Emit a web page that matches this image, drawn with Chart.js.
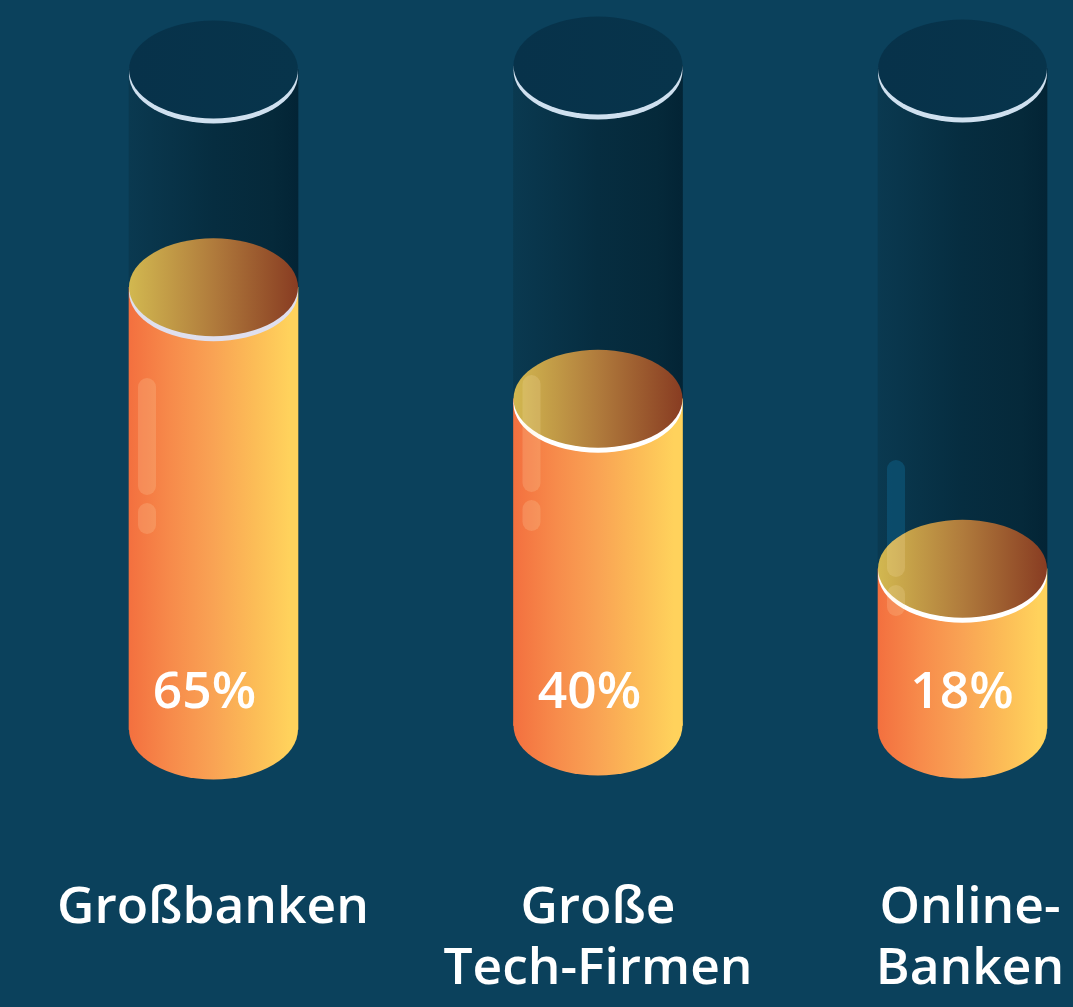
<!DOCTYPE html>
<html lang="de">
<head>
<meta charset="utf-8">
<title>Großbanken, Tech-Firmen, Online-Banken</title>
<script src="https://cdn.jsdelivr.net/npm/chart.js@4"></script>
<style>
html,body{margin:0;padding:0;background:#0b415c;}
canvas{display:block;}
</style>
</head>
<body>
<canvas id="chart" width="1073" height="1007"></canvas>
<script>
// Data
const categories = [['Großbanken'], ['Große', 'Tech-Firmen'], ['Online-', 'Banken']];
const percentValues = [65, 40, 18];
const fillLevels = [67.0, 49.5, 24.2];   // drawn liquid height
const tubeLevels = [100, 100, 100];

// Styles and per-column nudges
const COL_DX = [0, 10, 0];
const COL_DY = [0, -4, -1];
const LABEL_X = [213, 598, 970];
const LABEL_Y = 923;
const LABEL_LINE = 61;
const PCT_X = [204.5, 589.5, 962];
const PCT_Y = 708;
const BAR_W = 169;
const RY = 49;
const RY_BOTTOM = 50;
const RIM = 5;
const TOP_RIM = '#cfe0ef';
const FILL_RIM = ['#dfdfee', '#ffffff', '#ffffff'];
const HILITE_TOP = [378, 375, 460];
const HILITE_LONG = 117, HILITE_GAP = 8, HILITE_SHORT = 31;
const HILITE_X = 9, HILITE_W = 18;

function grad(ctx, cx, stops) {
  const g = ctx.createLinearGradient(cx - BAR_W / 2, 0, cx + BAR_W / 2, 0);
  stops.forEach(s => g.addColorStop(s[0], s[1]));
  return g;
}
const TUBE = [[0, '#0a3950'], [0.5, '#062d40'], [0.85, '#05293a'], [1, '#032435']];
const TUBE_TOP = [[0, '#07324a'], [1, '#07344b']];
const LIQ = [[0, '#f3703f'], [0.25, '#f78b4b'], [0.5, '#f9a354'], [0.75, '#fcbd57'], [0.95, '#ffd25c'], [1, '#ffd25c']];
const LIQ_TOP = [[0, '#d2b850'], [0.5, '#b07b3c'], [1, '#883c22']];

function colX(chart, i) { return chart.scales.x.getPixelForTick(i) + COL_DX[i]; }
function ell(ctx, cx, cy, fill, ry) {
  ctx.fillStyle = fill;
  ctx.beginPath();
  ctx.ellipse(cx, cy, BAR_W / 2, ry || RY, 0, 0, Math.PI * 2);
  ctx.fill();
}
function pill(ctx, x, y, h) {
  ctx.beginPath();
  ctx.roundRect(x, y, HILITE_W, h, HILITE_W / 2);
  ctx.fill();
}
function pills(ctx, i, cx, color) {
  const x = cx - BAR_W / 2 + HILITE_X;
  ctx.fillStyle = color;
  pill(ctx, x, HILITE_TOP[i], HILITE_LONG);
  pill(ctx, x, HILITE_TOP[i] + HILITE_LONG + HILITE_GAP, HILITE_SHORT);
}

const cylinderPlugin = {
  id: 'cylinders',
  afterDatasetsUpdate(chart) {
    chart.data.datasets.forEach((d, di) => {
      chart.getDatasetMeta(di).data.forEach((el, i) => {
        el.x += COL_DX[i];
        el.y += COL_DY[i];
        el.base += COL_DY[i];
      });
    });
  },
  beforeDatasetDraw(chart, args) {
    if (args.index !== 1) return;
    const ctx = chart.ctx;
    chart.getDatasetMeta(1).data.forEach((el, i) => {
      ell(ctx, el.x, el.base, grad(ctx, el.x, LIQ), RY_BOTTOM);
    });
  },
  afterDatasetDraw(chart, args) {
    const ctx = chart.ctx;
    if (args.index === 0) {
      chart.getDatasetMeta(0).data.forEach((el, i) => {
        ell(ctx, el.x, el.y + RIM, TOP_RIM);
        ell(ctx, el.x, el.y, grad(ctx, el.x, TUBE_TOP));
        pills(ctx, i, el.x, 'rgba(12,92,132,0.55)');
      });
    }
    if (args.index === 1) {
      chart.getDatasetMeta(1).data.forEach((el, i) => {
        ell(ctx, el.x, el.y + RIM, FILL_RIM[i]);
        ell(ctx, el.x, el.y, grad(ctx, el.x, LIQ_TOP));
        ctx.save();
        ctx.beginPath();
        ctx.ellipse(el.x, el.y, BAR_W / 2, RY, 0, Math.PI, Math.PI * 2);
        ctx.lineTo(el.x + BAR_W / 2, el.base);
        ctx.lineTo(el.x - BAR_W / 2, el.base);
        ctx.closePath();
        ctx.clip();
        pills(ctx, i, el.x, 'rgba(255,235,190,0.18)');
        ctx.restore();
      });
    }
  },
  afterDraw(chart) {
    const ctx = chart.ctx;
    ctx.save();
    ctx.fillStyle = '#ffffff';
    ctx.textAlign = 'center';
    ctx.textBaseline = 'alphabetic';
    ctx.font = '600 51.5px "Open Sans"';
    percentValues.forEach((v, i) => ctx.fillText(v + '%', PCT_X[i], PCT_Y));
    chart.data.labels.forEach((lines, i) => {
      lines.forEach((t, j) => ctx.fillText(t, LABEL_X[i], LABEL_Y + j * LABEL_LINE));
    });
    ctx.restore();
  }
};

new Chart(document.getElementById('chart'), {
  type: 'bar',
  plugins: [cylinderPlugin],
  data: {
    labels: categories,
    datasets: [
      {
        label: 'Röhre',
        data: tubeLevels,
        order: 2,
        clip: false,
        grouped: false,
        barThickness: BAR_W,
        borderWidth: 0,
        backgroundColor: c => grad(c.chart.ctx, colX(c.chart, c.dataIndex), TUBE)
      },
      {
        label: 'Füllstand',
        data: fillLevels,
        order: 1,
        clip: false,
        grouped: false,
        barThickness: BAR_W,
        borderWidth: 0,
        backgroundColor: c => grad(c.chart.ctx, colX(c.chart, c.dataIndex), LIQ)
      }
    ]
  },
  options: {
    responsive: false,
    animation: false,
    events: [],
    layout: { padding: { left: 213.5, right: 110.5, top: 69.5, bottom: 277.5 } },
    plugins: { legend: { display: false }, tooltip: { enabled: false } },
    scales: {
      x: { display: false, offset: false },
      y: { display: false, min: 0, max: 100 }
    }
  }
});
</script>
</body>
</html>
